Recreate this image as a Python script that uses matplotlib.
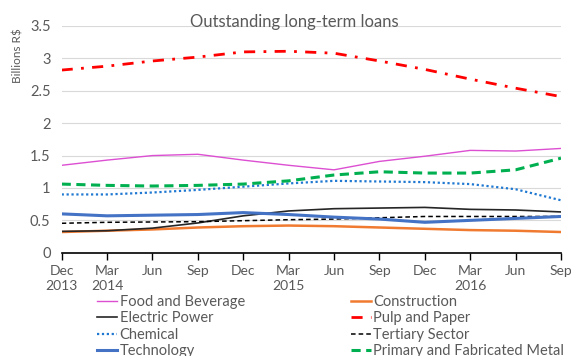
import matplotlib
matplotlib.use("Agg")
import matplotlib.pyplot as plt

months = ["Dec\n2013", "Mar\n2014", "Jun", "Sep", "Dec", "Mar\n2015", "Jun", "Sep",
          "Dec", "Mar\n2016", "Jun", "Sep"]

food = [1.35, 1.43, 1.50, 1.52, 1.43, 1.35, 1.28, 1.41, 1.49, 1.58, 1.57, 1.61]
construction = [0.32, 0.34, 0.36, 0.39, 0.41, 0.42, 0.41, 0.39, 0.37, 0.35, 0.34, 0.32]
electric = [0.33, 0.34, 0.38, 0.46, 0.57, 0.645, 0.68, 0.69, 0.70, 0.67, 0.66, 0.63]
pulp = [2.82, 2.88, 2.96, 3.02, 3.10, 3.11, 3.08, 2.96, 2.83, 2.68, 2.54, 2.41]
chemical = [0.90, 0.90, 0.93, 0.97, 1.02, 1.07, 1.11, 1.10, 1.09, 1.06, 0.98, 0.81]
tertiary = [0.455, 0.47, 0.475, 0.48, 0.495, 0.51, 0.52, 0.54, 0.56, 0.56, 0.56, 0.56]
technology = [0.60, 0.57, 0.58, 0.59, 0.62, 0.59, 0.55, 0.52, 0.47, 0.50, 0.53, 0.56]
metal = [1.06, 1.04, 1.03, 1.04, 1.06, 1.11, 1.20, 1.25, 1.23, 1.23, 1.28, 1.46]

yticks = [0, 0.5, 1, 1.5, 2, 2.5, 3, 3.5]
ytick_labels = ["0", "0.5", "1", "1.5", "2", "2.5", "3", "3.5"]

plt.rcParams['font.family'] = ['Lato', 'DejaVu Sans']
gray = '#595959'

fig = plt.figure(figsize=(5.71, 3.56), dpi=100)
ax = fig.add_axes([0.108, 0.290, 0.8745, 0.637])
x = list(range(len(months)))

series = [
    ("Food and Beverage", food, dict(color='#DC4FD2', lw=1.0, ls='-')),
    ("Construction", construction, dict(color='#F07A30', lw=1.8, ls='-')),
    ("Electric Power", electric, dict(color='#262626', lw=1.2, ls='-')),
    ("Pulp and Paper", pulp, dict(color='#FF0000', lw=2.0, dashes=(4, 3, 1, 3))),
    ("Chemical", chemical, dict(color='#1F78D1', lw=1.6, dashes=(1, 1.2))),
    ("Tertiary Sector", tertiary, dict(color='#000000', lw=1.1, dashes=(3, 2))),
    ("Technology", technology, dict(color='#4472C4', lw=2.2, ls='-')),
    ("Primary and Fabricated Metal", metal, dict(color='#00B050', lw=2.2, dashes=(3, 1.8))),
]

handles = {}
for name, vals, st in series:
    ln, = ax.plot(x, vals, label=name, **st)
    handles[name] = ln

ax.set_ylim(0, 3.5)
ax.set_xlim(0, len(months) - 1)
ax.set_yticks(yticks)
ax.set_yticklabels(ytick_labels)
ax.set_xticks(x)
ax.set_xticklabels(months, linespacing=1.25)
ax.grid(axis='y', color='#D9D9D9', lw=0.8)
ax.set_axisbelow(True)
for s in ['top', 'right', 'left']:
    ax.spines[s].set_visible(False)
ax.spines['bottom'].set_color('#000000')
ax.spines['bottom'].set_linewidth(1.2)
ax.tick_params(axis='y', length=0, labelsize=10.5, labelcolor=gray, pad=8)
ax.tick_params(axis='x', length=5, width=1, color='#000000', direction='out',
               labelsize=10, labelcolor=gray, pad=4)
ax.yaxis.get_major_ticks()[0].gridline.set_visible(False)

fig.text(0.515, 0.938, "Outstanding long-term loans", ha='center', va='center',
         fontsize=12, color=gray)
fig.text(0.032, 0.845, "Billions R$", rotation=90, ha='center', va='center',
         fontsize=8.5, color=gray)

col1 = ["Food and Beverage", "Electric Power", "Chemical", "Technology"]
col2 = ["Construction", "Pulp and Paper", "Tertiary Sector", "Primary and Fabricated Metal"]
for names, xa in [(col1, 0.170), (col2, 0.614)]:
    leg = fig.legend([handles[n] for n in names], names, loc='upper left',
                     bbox_to_anchor=(xa, 0.172), bbox_transform=fig.transFigure,
                     frameon=False, fontsize=10.5, handlelength=1.4,
                     handletextpad=0.15, borderpad=0, borderaxespad=0,
                     labelspacing=0.17)
    for t in leg.get_texts():
        t.set_color(gray)

fig.savefig("out.png", dpi=100)
